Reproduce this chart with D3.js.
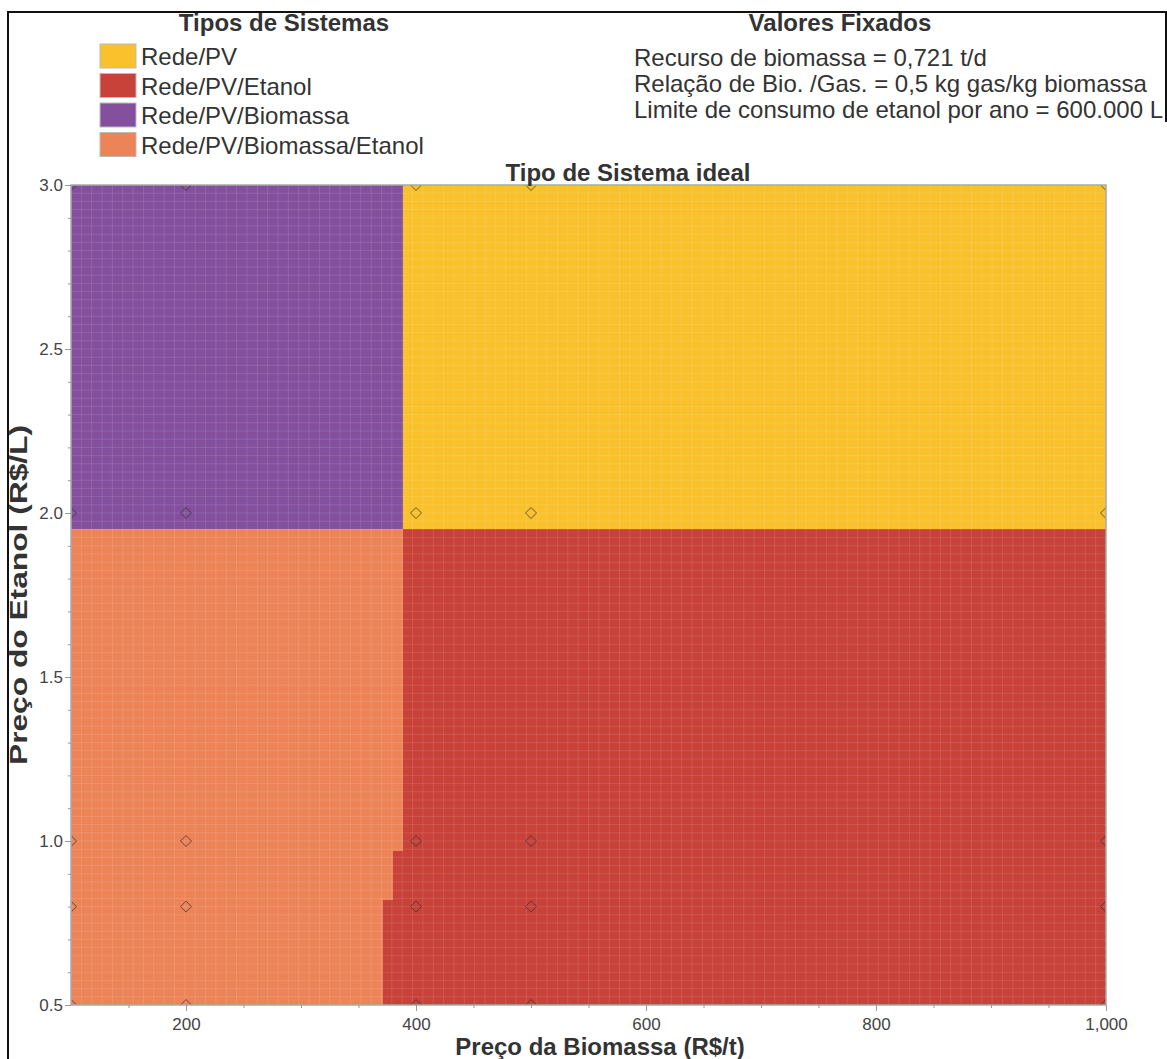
<!DOCTYPE html>
<html>
<head>
<meta charset="utf-8">
<script src="https://cdn.jsdelivr.net/npm/d3@7"></script>
<style>
  body { margin: 0; background: #fff; }
  text { font-family: "Liberation Sans", Arial, sans-serif; }
</style>
</head>
<body>
<div id="chart"></div>
<script>
// system types and colours
var sistemas = ["Rede/PV", "Rede/PV/Etanol", "Rede/PV/Biomassa", "Rede/PV/Biomassa/Etanol"];
var cores = ["#f9c12c", "#c8423a", "#84509e", "#ed8458"];

// fixed values
var fixados = [
  "Recurso de biomassa = 0,721 t/d",
  "Relação de Bio. /Gas. = 0,5 kg gas/kg biomassa",
  "Limite de consumo de etanol por ano = 600.000 L"
];

// bands of ethanol price (R$/L) and the biomass price (R$/t) where the system changes
var etanolBandas = [0.5, 0.82, 0.97, 1.95, 3.0];
var biomassaLimite = [371, 380, 388.5, 388.5];
// left / right system of each band (index into sistemas)
var sistemaEsq = [3, 3, 3, 2];
var sistemaDir = [1, 1, 1, 0];

// simulated points (diamonds)
var biomassaPontos = [100, 200, 400, 500, 1000];
var etanolPontos = [0.5, 0.8, 1.0, 2.0, 3.0];

// tick values
var xTicks = [200, 400, 600, 800, 1000];
var yTicks = [0.5, 1.0, 1.5, 2.0, 2.5, 3.0];

var W = 1167, H = 1059;
var plot = {left: 71, top: 185, right: 1106, bottom: 1005};

var svg = d3.select("#chart")
  .append("svg")
    .attr("width", W)
    .attr("height", H);

var x = d3.scaleLinear().domain([100, 1000]).range([plot.left, plot.right]);
var y = d3.scaleLinear().domain([0.5, 3.0]).range([plot.bottom, plot.top]);

svg.append("clipPath").attr("id", "clip")
  .append("rect")
    .attr("x", plot.left).attr("y", plot.top)
    .attr("width", plot.right - plot.left).attr("height", plot.bottom - plot.top);

var area = svg.append("g").attr("clip-path", "url(#clip)");

// regions
var bandas = d3.range(biomassaLimite.length);
area.selectAll("rect.esq")
  .data(bandas)
  .enter()
  .append("rect")
    .attr("x", x(100))
    .attr("y", function(i) { return y(etanolBandas[i + 1]); })
    .attr("width", function(i) { return x(biomassaLimite[i]) - x(100); })
    .attr("height", function(i) { return y(etanolBandas[i]) - y(etanolBandas[i + 1]); })
    .attr("fill", function(i) { return cores[sistemaEsq[i]]; })
    .attr("shape-rendering", "crispEdges");
area.selectAll("rect.dir")
  .data(bandas)
  .enter()
  .append("rect")
    .attr("x", function(i) { return x(biomassaLimite[i]); })
    .attr("y", function(i) { return y(etanolBandas[i + 1]); })
    .attr("width", function(i) { return x(1000) - x(biomassaLimite[i]); })
    .attr("height", function(i) { return y(etanolBandas[i]) - y(etanolBandas[i + 1]); })
    .attr("fill", function(i) { return cores[sistemaDir[i]]; })
    .attr("shape-rendering", "crispEdges");

// faint cell grid of the surface
area.selectAll("line.gx")
  .data(d3.range(100, 1000, 9))
  .enter()
  .append("line")
    .attr("x1", function(d) { return x(d); })
    .attr("x2", function(d) { return x(d); })
    .attr("y1", plot.top).attr("y2", plot.bottom)
    .attr("stroke", "#fff").attr("stroke-opacity", 0.11);
area.selectAll("line.gy")
  .data(d3.range(0, 100).map(function(i) { return 0.5 + i * 0.025; }))
  .enter()
  .append("line")
    .attr("y1", function(d) { return y(d); })
    .attr("y2", function(d) { return y(d); })
    .attr("x1", plot.left).attr("x2", plot.right)
    .attr("stroke", "#fff").attr("stroke-opacity", 0.11);

// diamonds
var pontos = [];
etanolPontos.forEach(function(e) {
  biomassaPontos.forEach(function(b) { pontos.push({b: b, e: e}); });
});
area.selectAll("path.pt")
  .data(pontos)
  .enter()
  .append("path")
    .attr("d", "M0,-5.5L5.5,0L0,5.5L-5.5,0Z")
    .attr("transform", function(d) { return "translate(" + x(d.b) + "," + y(d.e) + ")"; })
    .attr("fill", "none")
    .attr("stroke", "#3a3030")
    .attr("stroke-opacity", 0.75)
    .attr("stroke-width", 1);

// plot frame
svg.append("rect")
  .attr("x", plot.left).attr("y", plot.top)
  .attr("width", plot.right - plot.left).attr("height", plot.bottom - plot.top)
  .attr("fill", "none").attr("stroke", "#a9a9a9").attr("stroke-width", 1.5);

// X axis
var xAxis = svg.append("g")
  .attr("transform", "translate(0," + plot.bottom + ")")
  .call(d3.axisBottom(x).tickValues(xTicks).tickSize(6).tickFormat(d3.format(",")));
svg.append("g")
  .attr("transform", "translate(0," + plot.bottom + ")")
  .call(d3.axisBottom(x).tickValues(d3.range(150, 1000, 50)).tickSize(3).tickFormat(""))
  .call(function(g) { g.select(".domain").remove(); });

// Y axis
var yAxis = svg.append("g")
  .attr("transform", "translate(" + plot.left + ",0)")
  .call(d3.axisLeft(y).tickValues(yTicks).tickSize(6).tickFormat(d3.format(".1f")));
svg.append("g")
  .attr("transform", "translate(" + plot.left + ",0)")
  .call(d3.axisLeft(y).tickValues(d3.range(0.6, 3.0, 0.1)).tickSize(3).tickFormat(""))
  .call(function(g) { g.select(".domain").remove(); });

svg.selectAll(".domain").remove();
svg.selectAll(".tick line").attr("stroke", "#999");
svg.selectAll(".tick text")
  .style("font-size", "17px")
  .attr("fill", "#444")
  .attr("font-family", "Liberation Sans, Arial, sans-serif");
xAxis.selectAll(".tick text").attr("dy", "0.95em");
yAxis.selectAll(".tick text").attr("x", -8);

// axis titles
svg.append("text")
  .attr("x", 600)
  .attr("y", 1055)
  .attr("text-anchor", "middle")
  .style("font-size", "24px").style("font-weight", "bold")
  .attr("fill", "#333")
  .text("Preço da Biomassa (R$/t)");
svg.append("text")
  .attr("transform", "translate(27," + 595 + ") rotate(-90)")
  .attr("text-anchor", "middle")
  .attr("textLength", 340)
  .attr("lengthAdjust", "spacingAndGlyphs")
  .style("font-size", "24px").style("font-weight", "bold")
  .attr("fill", "#333")
  .text("Preço do Etanol (R$/L)");

// plot title
svg.append("text")
  .attr("x", 628).attr("y", 181)
  .attr("text-anchor", "middle")
  .style("font-size", "24px").style("font-weight", "bold")
  .attr("fill", "#333")
  .text("Tipo de Sistema ideal");

// legend
svg.append("text")
  .attr("x", 284).attr("y", 31)
  .attr("text-anchor", "middle")
  .style("font-size", "24px").style("font-weight", "bold")
  .attr("fill", "#333")
  .text("Tipos de Sistemas");
var leg = svg.selectAll("g.leg")
  .data(sistemas)
  .enter()
  .append("g")
    .attr("transform", function(d, i) { return "translate(100," + (44 + i * 29.5) + ")"; });
leg.append("rect")
  .attr("width", 36).attr("height", 24)
  .attr("fill", function(d, i) { return cores[i]; })
  .attr("stroke", "#bbb").attr("stroke-width", 1);
leg.append("text")
  .attr("x", 41).attr("y", 21)
  .style("font-size", "24px")
  .attr("fill", "#333")
  .text(function(d) { return d; });

// fixed values block
svg.append("text")
  .attr("x", 840).attr("y", 31)
  .attr("text-anchor", "middle")
  .style("font-size", "24px").style("font-weight", "bold")
  .attr("fill", "#333")
  .text("Valores Fixados");
svg.selectAll("text.fix")
  .data(fixados)
  .enter()
  .append("text")
    .attr("x", 634)
    .attr("y", function(d, i) { return 66 + i * 26; })
    .style("font-size", "24px")
    .attr("fill", "#333")
    .text(function(d) { return d; });

// outer black frame (cropped figure)
svg.append("path")
  .attr("d", "M8," + H + "V12H1166V122")
  .attr("fill", "none").attr("stroke", "#111").attr("stroke-width", 2);
</script>
</body>
</html>
